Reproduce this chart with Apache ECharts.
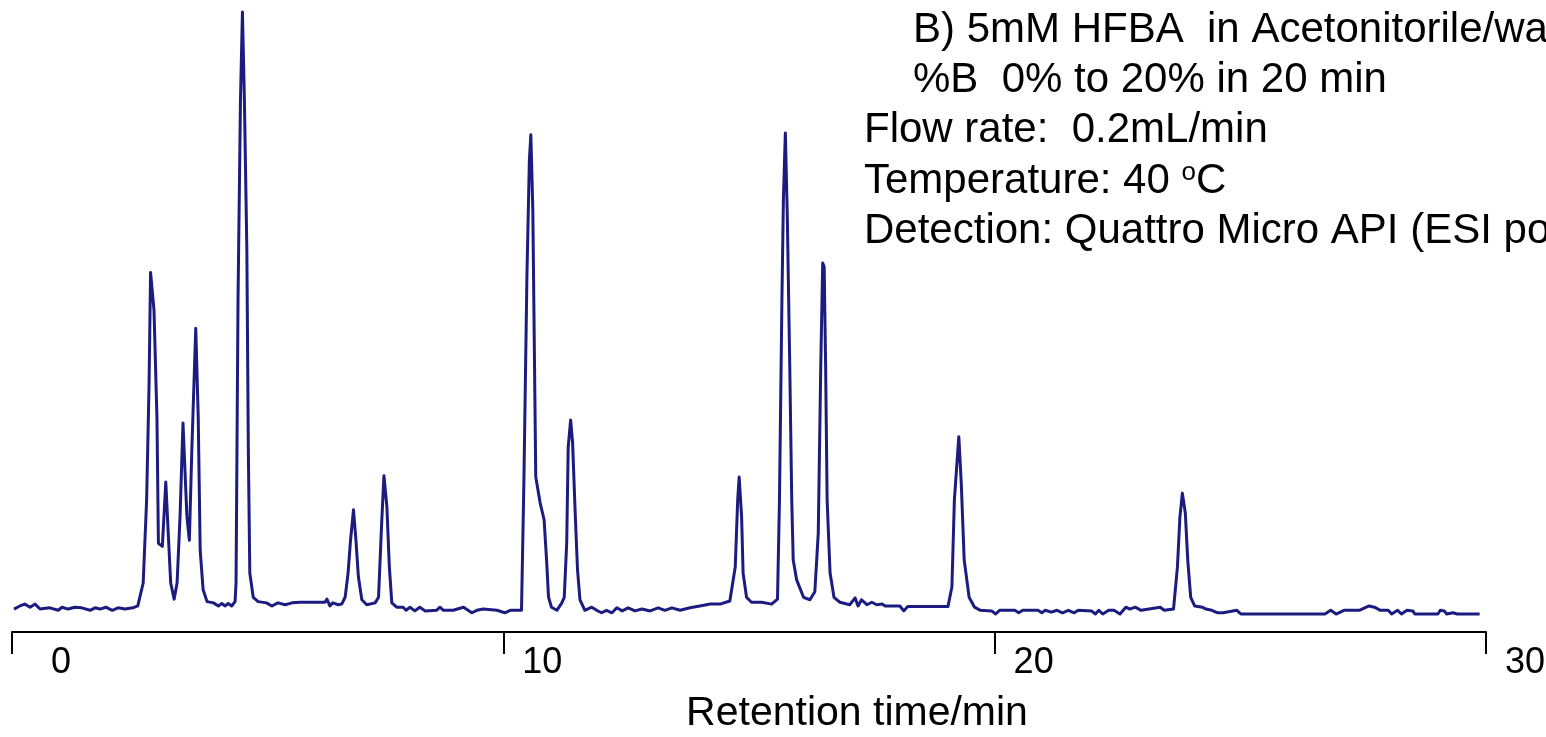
<!DOCTYPE html>
<html>
<head>
<meta charset="utf-8">
<script src="https://cdn.jsdelivr.net/npm/echarts@6/dist/echarts.min.js"></script>
<style>
  html, body { margin: 0; padding: 0; background: #ffffff; }
  #chart { width: 1546px; height: 737px; }
</style>
</head>
<body>
<div id="chart"></div>
<script>
// Retention time (min) and detector intensity (relative units, tallest peak = 100)
const retentionTime = [
  0.04,0.16,0.26,0.37,0.47,0.57,0.77,0.94,1.02,1.14,1.28,1.42,1.59,1.69,1.79,1.91,2.04,2.16,2.30,2.46,2.56,
  2.67,2.74,2.79,2.82,2.89,2.95,2.98,3.06,3.13,3.18,3.23,3.30,3.36,3.42,3.48,3.56,3.61,3.66,3.74,3.79,3.83,3.89,3.97,
  4.10,4.20,4.27,4.34,4.40,4.47,4.54,
  4.56,4.60,4.65,4.69,4.73,4.78,4.81,4.84,4.91,5.01,5.18,5.29,5.41,5.56,5.70,5.86,6.37,6.41,6.47,6.53,6.64,6.71,
  6.78,6.84,6.89,6.95,7.00,7.05,7.12,7.22,7.39,7.46,7.52,7.57,7.63,7.68,7.73,7.83,7.96,8.02,8.10,8.20,8.30,8.41,
  8.64,8.71,8.78,8.98,9.19,9.36,9.46,9.59,9.87,10.03,10.14,10.37,
  10.42,10.48,10.53,10.56,10.60,10.63,10.66,10.75,10.83,10.88,10.92,10.98,11.09,11.19,11.24,11.29,11.32,11.37,11.41,
  11.46,11.51,11.56,11.66,11.80,11.90,12.00,12.10,12.21,12.31,12.42,12.54,12.68,12.82,12.99,13.15,13.29,13.43,13.60,
  13.80,14.00,14.21,14.41,14.61,
  14.72,14.77,14.80,14.85,14.88,14.95,15.05,15.26,15.46,15.58,
  15.62,15.67,15.70,15.74,15.78,15.83,15.87,15.90,15.97,16.11,16.24,16.34,16.41,16.46,16.50,16.53,16.56,16.59,16.65,
  16.73,16.85,17.05,17.16,17.22,17.29,17.40,17.50,17.60,17.71,17.77,18.07,18.15,18.23,19.05,
  19.13,19.18,19.27,19.32,19.38,19.48,19.59,19.71,19.94,20.02,20.10,20.41,20.49,20.57,20.88,20.96,21.03,21.15,21.27,
  21.38,21.50,21.62,21.70,21.97,22.05,22.12,22.20,22.32,22.43,22.55,22.67,22.75,22.86,22.98,23.37,23.45,23.64,
  23.72,23.77,23.82,23.88,23.93,23.99,24.07,24.23,24.30,24.42,24.54,24.65,24.93,25.01,26.72,26.84,26.95,27.11,27.42,
  27.62,27.73,27.85,28.01,28.08,28.20,28.28,28.39,28.51,28.55,29.02,29.07,29.15,29.20,29.33,29.37,29.41,29.87
];
const intensity = [
  3.7,4.2,4.5,4.0,4.5,3.7,3.9,3.5,4.0,3.7,4.0,3.9,3.5,3.9,3.7,4.0,3.5,3.9,3.7,3.9,4.2,
  7.9,21.3,40.1,58.0,51.9,34.7,14.3,13.8,24.2,15.9,7.9,5.3,7.9,18.6,33.7,18.6,14.8,29.4,49.0,34.7,13.2,6.8,4.9,
  4.7,4.2,4.6,4.2,4.6,4.2,4.9,
  7.9,53.5,85.8,100,85.8,61.6,29.4,9.5,5.6,4.9,4.7,4.2,4.7,4.4,4.7,4.8,4.8,5.3,4.2,4.7,4.4,4.5,
  5.6,9.5,14.8,19.7,14.8,8.9,5.2,4.4,4.7,5.6,16.9,25.2,20.2,10.5,4.7,4.0,4.0,3.5,4.0,3.4,4.0,3.4,
  3.5,4.0,3.5,3.5,4.0,3.1,3.5,3.7,3.5,3.1,3.5,3.5,
  25.0,57.3,76.1,80.2,68.1,46.6,25.0,20.8,18.1,11.6,5.6,4.0,3.5,4.7,5.6,14.4,29.8,34.2,30.5,
  19.7,10.0,5.2,3.5,4.0,3.5,3.1,3.5,3.1,3.9,3.4,3.9,3.4,3.7,3.4,3.9,3.5,3.9,3.5,
  3.9,4.2,4.5,4.5,5.0,
  10.5,21.3,25.0,18.5,9.5,5.6,4.8,4.8,4.5,5.3,
  21.3,53.5,69.7,80.5,66.9,42.7,21.3,11.6,8.4,5.6,5.2,6.5,16.0,42.7,59.5,58.9,42.7,21.3,9.5,
  5.6,4.8,4.4,5.5,4.2,5.2,4.4,4.8,4.4,4.5,4.2,4.2,3.4,4.1,4.1,
  7.3,21.3,31.5,24.0,11.6,5.6,4.0,3.5,3.4,2.9,3.5,3.5,3.1,3.5,3.5,3.1,3.5,3.2,3.5,
  3.1,3.5,3.1,3.5,3.4,2.9,3.5,2.9,3.5,3.5,2.9,4.0,3.7,4.0,3.5,4.0,3.5,3.7,
  10.5,18.5,22.4,19.2,11.6,5.6,4.2,4.0,3.7,3.5,3.1,3.1,3.5,2.9,2.9,3.5,2.9,3.5,3.5,
  4.2,4.0,3.5,3.5,2.9,3.5,2.9,3.5,3.4,2.9,2.9,3.5,3.4,2.9,3.1,3.4,2.9,2.9
];
const xTicks = [0, 10, 20, 30];
const xAxisTitle = 'Retention time/min';
const conditionLines = [
  'B) 5mM HFBA  in Acetonitorile/water',
  '%B  0% to 20% in 20 min',
  'Flow rate:  0.2mL/min',
  'Temperature: 40 {sup|o}C',
  'Detection: Quattro Micro API (ESI positive)'
];

const FONT = "'Liberation Sans', Arial, Helvetica, sans-serif";
const chart = echarts.init(document.getElementById('chart'), null, { renderer: 'canvas' });

const seriesData = retentionTime.map((t, i) => [t, intensity[i]]);

const lineLeft = [913, 913, 864, 864, 864];
const lineCenterY = [30, 80, 130.5, 181, 231];

const option = {
  animation: false,
  backgroundColor: '#ffffff',
  grid: { left: 12, right: 60, top: 12, bottom: 105, containLabel: false, outerBoundsMode: 'none' },
  xAxis: {
    type: 'value',
    min: xTicks[0],
    max: xTicks[xTicks.length - 1],
    interval: 10,
    name: xAxisTitle,
    nameLocation: 'middle',
    nameGap: 61,
    nameTextStyle: { fontFamily: FONT, fontSize: 41, color: '#000000', padding: [0, 0, 0, 216], lineHeight: 41 },
    axisLine: { show: true, lineStyle: { color: '#000000', width: 2 } },
    axisTick: { show: true, length: 22, lineStyle: { color: '#000000', width: 2 } },
    axisLabel: {
      show: true, margin: 13, align: 'left', hideOverlap: false,
      formatter: function (v) { return '{a|' + v + '}'; },
      rich: {
        a: { width: 59, align: 'right', fontFamily: FONT, fontSize: 36, lineHeight: 36, color: '#000000' }
      }
    },
    splitLine: { show: false }
  },
  yAxis: {
    type: 'value', min: 0, max: 100, show: false,
    splitLine: { show: false }
  },
  series: [{
    type: 'line',
    data: seriesData,
    showSymbol: false,
    symbol: 'none',
    smooth: false,
    clip: false,
    lineStyle: { color: '#1c1c80', width: 3, join: 'round' }
  }],
  graphic: conditionLines.map((txt, i) => ({
    type: 'text',
    x: lineLeft[i],
    y: lineCenterY[i],
    silent: true,
    style: {
      text: txt,
      font: '42px ' + FONT,
      fill: '#000000',
      verticalAlign: 'middle',
      align: 'left',
      rich: {
        sup: { fontSize: 26, fontFamily: FONT, fill: '#000000', verticalAlign: 'top', lineHeight: 26, padding: [0, 0, 16, 0] }
      }
    }
  }))
};
chart.setOption(option);
</script>
</body>
</html>
